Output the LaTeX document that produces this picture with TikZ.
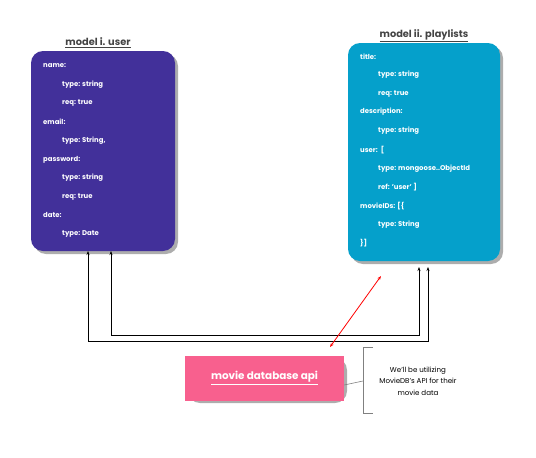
\documentclass[tikz,border=0pt]{standalone}
\usepackage{fontspec}
\setmainfont{Poppins}
\usetikzlibrary{arrows.meta}
\definecolor{userc}{HTML}{42309A}
\definecolor{playc}{HTML}{05A0CB}
\definecolor{pinkc}{HTML}{F8608E}
\definecolor{titlec}{HTML}{444444}
\definecolor{shadc}{HTML}{8A8A8A}
\tikzset{
  shad/.style={fill=shadc, rounded corners=12pt, opacity=0.7},
  field/.style={anchor=west, text=white, font=\fontsize{6.9}{8}\selectfont\bfseries, inner sep=0pt},
  ttl/.style={text=titlec, font=\fontsize{9.8}{11}\selectfont\bfseries, inner sep=0pt},
  link/.style={black, line width=0.8pt, -{Stealth[length=4pt,width=3pt]}},
  redlink/.style={red, line width=0.8pt, {Stealth[length=4pt,width=3pt]}-{Stealth[length=4pt,width=3pt]}},
}
\begin{document}
\begin{tikzpicture}[x=1pt,y=-1pt]
\useasboundingbox (0,0) rectangle (536,458);
% user model
\fill[shad] (34,54) rectangle (178,254);
\fill[userc, rounded corners=12pt] (31,51) rectangle (175,251);
\node[ttl] (ut) at (98,43) {\underline{model i. user}};
\node[field] (u1) at (43,66) {name:};
\node[field] (u2) at (62,85) {type: string};
\node[field] (u3) at (62,103) {req: true};
\node[field] (u4) at (43,122) {email:};
\node[field] (u5) at (62,141) {type: String,};
\node[field] (u6) at (43,160) {password:};
\node[field] (u7) at (62,178) {type: string};
\node[field] (u8) at (62,197) {req: true};
\node[field] (u9) at (43,215) {date:};
\node[field] (u10) at (62,234) {type: Date};
% playlists model
\fill[shad] (351,46) rectangle (503,264);
\fill[playc, rounded corners=12pt] (348,43) rectangle (500,261);
\node[ttl] (pt) at (424,36) {\underline{model ii. playlists}};
\node[field] (p1) at (360,57) {title:};
\node[field] (p2) at (378,75) {type: string};
\node[field] (p3) at (378,94) {req: true};
\node[field] (p4) at (360,112) {description:};
\node[field] (p5) at (378,131) {type: string};
\node[field] (p6) at (360,150) {user:\ \ [};
\node[field] (p7) at (378,169) {type: mongoose..ObjectId};
\node[field] (p8) at (378,187) {ref: 'user' ]};
\node[field] (p9) at (360,206) {movieIDs: [\{};
\node[field] (p10) at (378,225) {type: String};
\node[field] (p11) at (360,243) {\}]};
% connectors
\coordinate (a1) at (88,251);
\coordinate (a2) at (111,251);
\coordinate (b1) at (428,267);
\coordinate (b2) at (419,267);
\coordinate (c1) at (88,341);
\coordinate (c2) at (428,341);
\coordinate (d1) at (111,335);
\coordinate (d2) at (419,335);
\draw[link] (c1) -- (a1);
\draw[link] (c1) -- (c2) -- (b1);
\draw[link] (d1) -- (a2);
\draw[link] (d1) -- (d2) -- (b2);
% api box
\fill[shad] (188,358) rectangle (347,403);
\node[fill=pinkc, minimum width=159pt, minimum height=45pt, inner sep=0pt, text=white, font=\fontsize{10.4}{12}\selectfont\bfseries] (api) at (264.5,378) {\underline{movie database api}};
\coordinate (r1) at (381,276);
\coordinate (r2) at (330,347);
\draw[redlink] (r2) -- (r1);
% callout
\coordinate (k1) at (373,347);
\coordinate (k2) at (363,347);
\coordinate (k3) at (363,413);
\coordinate (k4) at (373,413);
\draw[gray, line width=0.6pt] (k1) -- (k2) -- (k3) -- (k4);
\coordinate (k5) at (363,381);
\draw[gray, line width=0.6pt] (api.east |- 0,385) -- (k5);
\node[align=center, font=\fontsize{7.1}{11.5}\selectfont, inner sep=0pt] (note) at (418,381) {We'll be utilizing\\MovieDB's API for their\\movie data};
\end{tikzpicture}
\end{document}
